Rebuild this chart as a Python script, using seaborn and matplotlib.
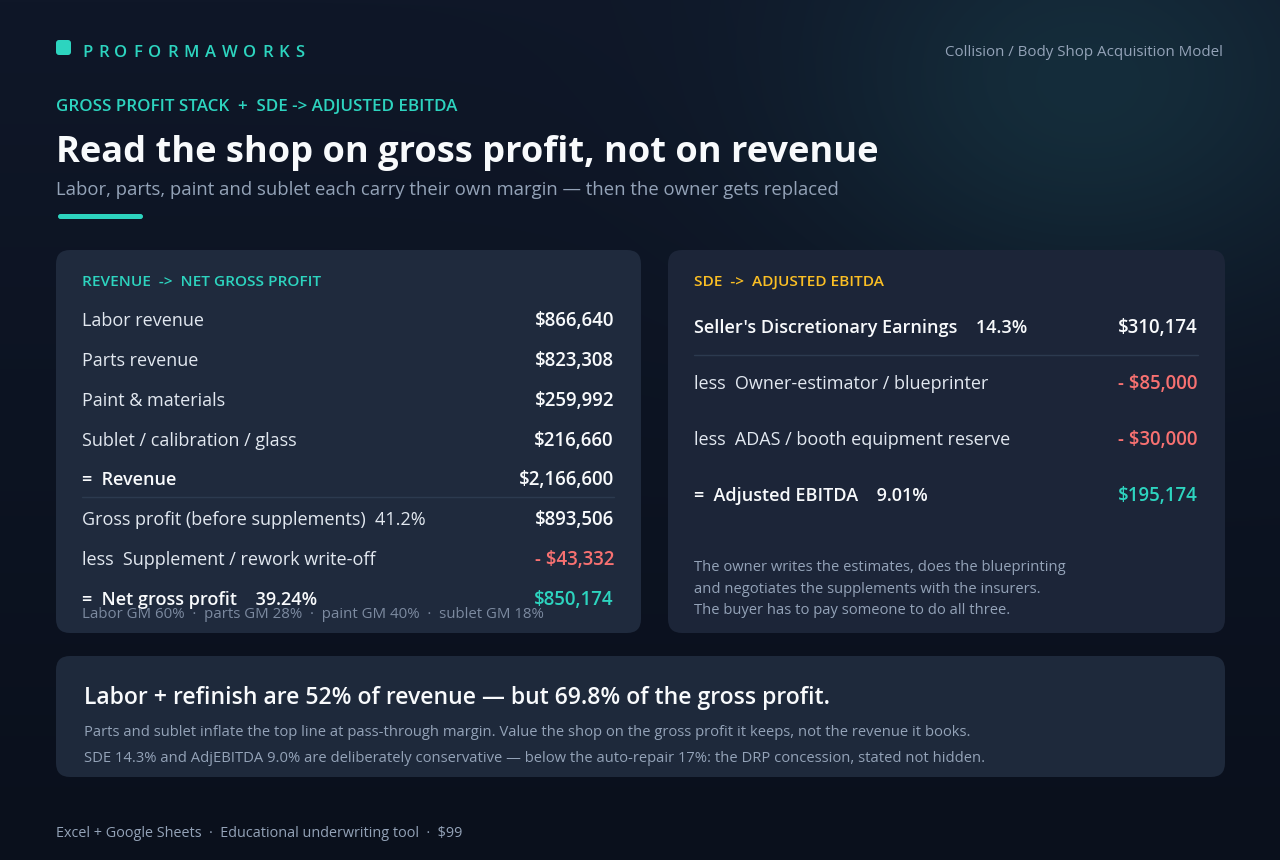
import numpy as np
import matplotlib
matplotlib.use("Agg")
import matplotlib.pyplot as plt
from matplotlib.patches import FancyBboxPatch
import seaborn as sns

# ---------------- data ----------------
brand = "PROFORMAWORKS"
model_name = "Collision / Body Shop Acquisition Model"
kicker = "GROSS PROFIT STACK  +  SDE -> ADJUSTED EBITDA"
title = "Read the shop on gross profit, not on revenue"
subtitle = "Labor, parts, paint and sublet each carry their own margin \u2014 then the owner gets replaced"

rev_header = "REVENUE  ->  NET GROSS PROFIT"
rev_labels = ["Labor revenue", "Parts revenue", "Paint & materials", "Sublet / calibration / glass"]
rev_values = [866640, 823308, 259992, 216660]
revenue_total = 2166600
gross_profit = 893506
gross_margin_pct = "41.2%"
supplement_label = "Supplement / rework write-off"
supplement_writeoff = 43332
net_gross_profit = 850174
net_gross_margin_pct = "39.24%"
gm_segments = ["Labor", "parts", "paint", "sublet"]
gm_pcts = [60, 28, 40, 18]

sde_header = "SDE  ->  ADJUSTED EBITDA"
sde_value = 310174
sde_pct = "14.3%"
adj_labels = ["Owner-estimator / blueprinter", "ADAS / booth equipment reserve"]
adj_values = [85000, 30000]
adj_ebitda = 195174
adj_ebitda_pct = "9.01%"
sde_note = ["The owner writes the estimates, does the blueprinting",
            "and negotiates the supplements with the insurers.",
            "The buyer has to pay someone to do all three."]

insight_title = "Labor + refinish are 52% of revenue \u2014 but 69.8% of the gross profit."
insight_lines = ["Parts and sublet inflate the top line at pass-through margin. Value the shop on the gross profit it keeps, not the revenue it books.",
                 "SDE 14.3% and AdjEBITDA 9.0% are deliberately conservative \u2014 below the auto-repair 17%: the DRP concession, stated not hidden."]
footer_items = ["Excel + Google Sheets", "Educational underwriting tool", "$99"]

# ---------------- style ----------------
sns.set_theme(style="dark")
FONT = ["Open Sans", "DejaVu Sans"]
plt.rcParams["font.family"] = FONT

TEAL = "#2dd4bf"
AMBER = "#fbbf24"
RED = "#f87171"
WHITE = "#f8fafc"
LABEL = "#e2e8f0"
MUTED = "#94a3b8"
DIM = "#7c8aa0"
CARD_L = "#1f2a3d"
CARD_R = "#1c2538"
CARD_B = "#1e293b"
RULE = "#2c3a4f"

fig = plt.figure(figsize=(12.8, 8.6), dpi=100)
ax = fig.add_axes([0, 0, 1, 1])
renderer = fig.canvas.get_renderer()

# background gradient with a soft teal glow top-right
H, W = 215, 320
yy, xx = np.mgrid[0:860:H * 1j, 0:1280:W * 1j]
top = np.array([15, 23, 40]) / 255
bot = np.array([10, 16, 28]) / 255
tt = (yy / 860)[..., None]
img = top * (1 - tt) + bot * tt
glow = np.exp(-(((xx - 1090) / 280) ** 2 + ((yy - 90) / 210) ** 2))[..., None]
img = img + glow * (np.array([22, 48, 62]) / 255 - top) * 0.9
ax.imshow(np.clip(img, 0, 1), extent=[0, 1280, 860, 0], zorder=0,
          interpolation="bilinear", aspect="auto")
ax.set_xlim(0, 1280)
ax.set_ylim(860, 0)
ax.axis("off")


def measure(s, size, weight="normal"):
    t = ax.text(0, 0, s, fontsize=size, fontweight=weight)
    w = t.get_window_extent(renderer).width
    t.remove()
    return w


def fit(s, target, weight="normal"):
    return 12 * target / measure(s, 12, weight)


def txt(x, y, s, size, color, weight="normal", ha="left"):
    return ax.text(x, y, s, fontsize=size, color=color, fontweight=weight,
                   ha=ha, va="baseline", zorder=5)


def box(x, y, w, h, r, color, z=1):
    p = FancyBboxPatch((x, y), w, h, boxstyle=f"round,pad=0,rounding_size={r}",
                       linewidth=0, facecolor=color, zorder=z)
    ax.add_patch(p)


def money(v):
    return f"${v:,.0f}"


# ---------------- sizes fitted to layout widths ----------------
S_TITLE = fit(title, 821, "bold")
S_SUB = fit(subtitle, 776)
S_KICK = fit(kicker, 401, "semibold")
S_MODEL = fit(model_name, 277)
S_HEAD = fit(rev_header, 240, "semibold")
S_ROW = fit("less  " + adj_labels[1], 315)
S_ROWB = fit(money(revenue_total), 95, "semibold")
S_FOOTN = fit("Labor GM 60%  \u00b7  parts GM 28%  \u00b7  paint GM 40%  \u00b7  sublet GM 18%", 463)
S_NOTE = fit(sde_note[0], 368)
S_INS = fit(insight_title, 746, "semibold")
S_INSL = fit(insight_lines[1], 897)
S_FOOT = fit("  \u00b7  ".join(footer_items), 405)

# ---------------- header ----------------
box(56, 40, 15, 15, 3, TEAL, z=2)
bsize = 12.0
widths = [measure(c, bsize, "semibold") for c in brand]
track = (222 - sum(widths)) / (len(brand) - 1)
x = 82
for c, w in zip(brand, widths):
    txt(x, 57, c, bsize, TEAL, "semibold")
    x += w + track

txt(1223, 56, model_name, S_MODEL, MUTED, ha="right")
txt(56, 111, kicker, S_KICK, TEAL, "semibold")
txt(56, 162, title, S_TITLE, WHITE, "bold")
txt(56, 195, subtitle, S_SUB, MUTED)
box(58, 214, 85, 5, 2.5, TEAL, z=2)

# ---------------- left card ----------------
box(56, 250, 585, 383, 14, CARD_L)
LX, LR = 82, 614
txt(LX, 286, rev_header, S_HEAD, TEAL, "semibold")
ys = [326, 366, 406, 446]
for lab, val, y in zip(rev_labels, rev_values, ys):
    txt(LX, y, lab, S_ROW, LABEL)
    txt(LR, y, money(val), S_ROWB, WHITE, "semibold", ha="right")
txt(LX, 485, "=  Revenue", S_ROW, WHITE, "semibold")
txt(LR, 485, money(revenue_total), S_ROWB, WHITE, "semibold", ha="right")
ax.plot([LX, LR], [496.5, 496.5], color=RULE, lw=1, zorder=3)
txt(LX, 525, f"Gross profit (before supplements)  {gross_margin_pct}", S_ROW, LABEL)
txt(LR, 525, money(gross_profit), S_ROWB, WHITE, "semibold", ha="right")
txt(LX, 565, "less  " + supplement_label, S_ROW, LABEL)
txt(LR, 565, "- " + money(supplement_writeoff), S_ROWB, RED, "semibold", ha="right")
txt(LX, 605, f"=  Net gross profit    {net_gross_margin_pct}", S_ROW, WHITE, "semibold")
txt(LR, 605, money(net_gross_profit), S_ROWB, TEAL, "semibold", ha="right")
footnote = "  \u00b7  ".join(f"{s} GM {p}%" for s, p in zip(gm_segments, gm_pcts))
txt(LX, 618, footnote, S_FOOTN, DIM)

# ---------------- right card ----------------
box(668, 250, 557, 383, 14, CARD_R)
RX, RR = 694, 1198
txt(RX, 286, sde_header, S_HEAD, AMBER, "semibold")
txt(RX, 333, f"Seller's Discretionary Earnings    {sde_pct}", S_ROW, WHITE, "semibold")
txt(RR, 333, money(sde_value), S_ROWB, WHITE, "semibold", ha="right")
ax.plot([RX, RR], [354.5, 354.5], color=RULE, lw=1, zorder=3)
for lab, val, y in zip(adj_labels, adj_values, [389, 445]):
    txt(RX, y, "less  " + lab, S_ROW, LABEL)
    txt(RR, y, "- " + money(val), S_ROWB, RED, "semibold", ha="right")
txt(RX, 501, f"=  Adjusted EBITDA    {adj_ebitda_pct}", S_ROW, WHITE, "semibold")
txt(RR, 501, money(adj_ebitda), S_ROWB, TEAL, "semibold", ha="right")
for line, y in zip(sde_note, [571, 593, 614]):
    txt(RX, y, line, S_NOTE, MUTED)

# ---------------- insight card ----------------
box(56, 656, 1169, 121, 14, CARD_B)
txt(84, 704, insight_title, S_INS, WHITE, "semibold")
for line, y in zip(insight_lines, [736, 762]):
    txt(84, y, line, S_INSL, MUTED)

# ---------------- footer ----------------
txt(56, 837, "  \u00b7  ".join(footer_items), S_FOOT, MUTED)

fig.savefig("out.png", dpi=100, facecolor="#0d1424")
